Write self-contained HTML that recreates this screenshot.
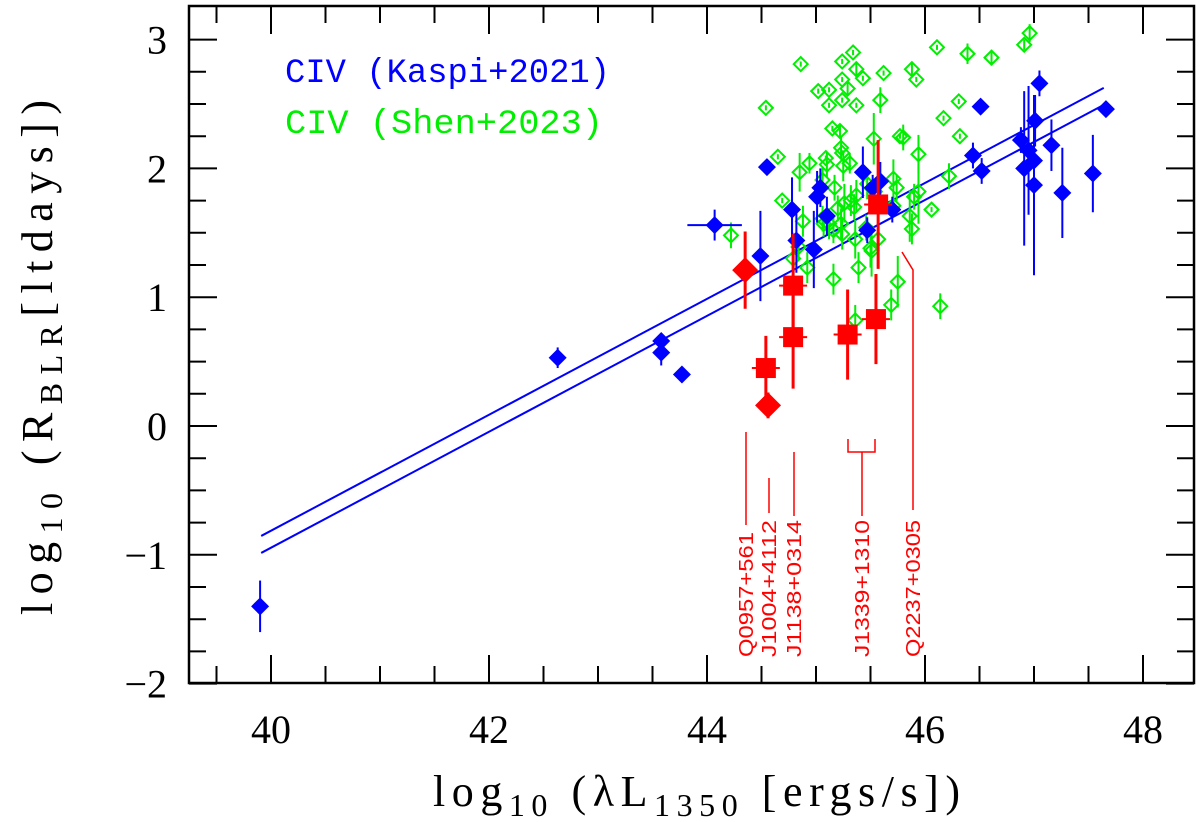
<!DOCTYPE html>
<html><head><meta charset="utf-8"><style>
html,body{margin:0;padding:0;background:#fff;}
svg{display:block;}
</style></head><body>
<svg id="chart" width="1200" height="822" viewBox="0 0 1200 822" xmlns="http://www.w3.org/2000/svg">
<rect x="0" y="0" width="1200" height="822" fill="#fff"/>
<g id="marks"></g>
<g id="axes"></g>
<text x="285" y="82" fill="#0000ff" font-family="Liberation Mono, monospace" font-size="34" textLength="325" lengthAdjust="spacingAndGlyphs">CIV (Kaspi+2021)</text>
<text x="285" y="133" fill="#00ee00" font-family="Liberation Mono, monospace" font-size="34" textLength="318" lengthAdjust="spacingAndGlyphs">CIV (Shen+2023)</text>
<text x="433" y="806" font-family="Liberation Serif, serif" font-size="44" fill="#000" textLength="527" lengthAdjust="spacing">log<tspan font-size="32" dy="10">10</tspan><tspan dy="-10">  (λL</tspan><tspan font-size="32" dy="10">1350</tspan><tspan dy="-10"> [ergs/s])</tspan></text>
<text transform="translate(52,615) rotate(-90)" font-family="Liberation Serif, serif" font-size="44" fill="#000" textLength="515" lengthAdjust="spacing">log<tspan font-size="32" dy="10">10</tspan><tspan dy="-10">  (R</tspan><tspan font-size="32" dy="10">BLR</tspan><tspan dy="-10">[ltdays])</tspan></text>
</svg>
<script>
// ----- data -----
const kaspiX = [39.9,42.63,43.58,43.58,43.77,44.07,44.49,44.55,44.78,44.82,44.98,45.01,45.04,45.1,45.43,45.47,45.52,45.59,45.7,46.44,46.51,46.52,46.88,46.91,46.95,47.0,47.01,47.0,47.05,47.16,47.26,47.54,47.66];
const kaspiY = [-1.40,0.53,0.66,0.57,0.40,1.56,1.32,2.01,1.68,1.44,1.37,1.78,1.85,1.63,1.97,1.52,1.85,1.90,1.68,2.10,2.48,1.98,2.22,2.00,2.14,2.06,2.37,1.87,2.66,2.18,1.81,1.96,2.46];
const kaspiYErr = [0.2,0.08,0.05,0.1,0.03,0.12,0.35,0.05,0.25,0.25,0.3,0.2,0.15,0.15,0.2,0.1,0.1,0.15,0.1,0.1,0.02,0.1,0.1,0.6,0.5,0.35,0.2,0.7,0.1,0.2,0.35,0.3,0.05];
const kaspiXErr = [0,0.05,0,0,0,0.25,0,0,0,0,0,0,0,0,0,0,0,0,0,0,0,0,0,0,0,0,0,0,0,0,0,0,0];

const shenX = [46.96,46.91,46.11,46.39,46.61,45.34,45.24,44.86,45.37,45.43,45.62,45.88,45.92,45.24,45.29,45.12,45.02,45.24,45.12,45.37,45.59,44.54,46.31,46.17,45.15,45.22,45.53,45.77,45.80,46.32,45.23,45.24,44.65,45.09,44.94,45.10,45.31,45.25,45.94,46.44,44.85,45.06,45.17,45.47,45.71,45.74,45.54,45.94,46.22,45.90,44.69,45.37,45.32,45.26,45.35,45.20,45.71,46.06,45.86,44.88,45.06,45.12,45.07,45.23,45.16,45.24,45.88,45.46,44.22,45.36,45.57,45.50,45.51,44.84,44.79,44.92,45.39,45.16,45.75,45.69,46.14,45.36];
const shenY = [3.05,2.96,2.94,2.89,2.86,2.90,2.83,2.81,2.77,2.70,2.74,2.77,2.69,2.69,2.62,2.61,2.60,2.53,2.49,2.49,2.53,2.47,2.52,2.39,2.31,2.29,2.23,2.25,2.24,2.25,2.16,2.12,2.09,2.08,2.04,2.03,2.04,2.02,2.11,2.10,1.97,1.91,1.85,1.88,1.92,1.85,1.82,1.82,1.94,1.78,1.75,1.79,1.75,1.73,1.70,1.69,1.71,1.68,1.63,1.59,1.61,1.57,1.57,1.57,1.52,1.49,1.53,1.54,1.48,1.45,1.45,1.38,1.36,1.39,1.30,1.23,1.23,1.14,1.12,0.94,0.93,0.82];
const shenYErr = [0.07,0.04,0.02,0.08,0.06,0.02,0.02,0.02,0.06,0.02,0.02,0.05,0.02,0.02,0.05,0.02,0.02,0.02,0.02,0.02,0.1,0.02,0.02,0.02,0.02,0.05,0.2,0.02,0.1,0.02,0.08,0.02,0.02,0.02,0.08,0.1,0.08,0.12,0.15,0.02,0.15,0.1,0.1,0.12,0.15,0.1,0.08,0.25,0.1,0.1,0.02,0.12,0.12,0.15,0.1,0.1,0.08,0.02,0.2,0.12,0.1,0.12,0.1,0.12,0.1,0.12,0.12,0.1,0.1,0.15,0.12,0.15,0.2,0.1,0.2,0.12,0.12,0.12,0.2,0.12,0.1,0.12];

const redDiamondX = [44.35,44.56];
const redDiamondY = [1.21,0.16];
const redDiamondYErr = [0.3,0.1];
const redSquareX = [44.54,44.79,44.79,45.29,45.55,45.57];
const redSquareY = [0.45,1.09,0.69,0.71,0.83,1.72];
const redSquareYErr = [0.25,0.4,0.4,0.35,0.35,0.5];

const fitX = [39.91,47.64];
const fitIntercepts = [0.987,0.855];
const fitSlope = 0.45;

const xTicksMajor = [40,42,44,46,48];
const yTicksMajor = [-2,-1,0,1,2,3];

// ----- scales -----
const L=189,R=1194,T=6,B=683;
function sx(v){return 271+(v-40)*109;}
function sy(v){return 426-v*128.8;}
const NS='http://www.w3.org/2000/svg';
const marks=document.getElementById('marks');
const axes=document.getElementById('axes');
function mk(tag,attrs,parent){const e=document.createElementNS(NS,tag);for(const k in attrs)e.setAttribute(k,attrs[k]);parent.appendChild(e);return e;}
function line(x1,y1,x2,y2,c,w,p){return mk('line',{x1:x1,y1:y1,x2:x2,y2:y2,stroke:c,'stroke-width':w},p);}

fitIntercepts.forEach((a,i)=>{
  const y1=a+fitSlope*(fitX[0]-44), y2=a+fitSlope*(fitX[1]-44);
  const l=line(sx(fitX[0]),sy(y1),sx(fitX[1]),sy(y2),'#0000ff',2,marks);
  
  
});

shenX.forEach((x,i)=>{
  const g=mk('g',{},marks);
  
  
  const cx=sx(x),cy=sy(shenY[i]),e=shenYErr[i]*128.8,h=7;
  line(cx,cy-e,cx,cy+e,'#00ee00',2,g);
  mk('polygon',{points:`${cx},${cy-h} ${cx+h},${cy} ${cx},${cy+h} ${cx-h},${cy}`,fill:'none',stroke:'#00ee00','stroke-width':2},g);
});

kaspiX.forEach((x,i)=>{
  const g=mk('g',{},marks);
  
  
  const cx=sx(x),cy=sy(kaspiY[i]),e=kaspiYErr[i]*128.8,ex=kaspiXErr[i]*109,h=9;
  line(cx,cy-e,cx,cy+e,'#0000ff',2,g);
  if(ex>0) line(cx-ex,cy,cx+ex,cy,'#0000ff',2,g);
  mk('polygon',{points:`${cx},${cy-h} ${cx+h},${cy} ${cx},${cy+h} ${cx-h},${cy}`,fill:'#0000ff'},g);
});

redDiamondX.forEach((x,i)=>{
  const g=mk('g',{},marks);
  
  
  const cx=sx(x),cy=sy(redDiamondY[i]),e=redDiamondYErr[i]*128.8,h=13;
  line(cx,cy-e,cx,cy+e,'#ff0000',3,g);
  mk('polygon',{points:`${cx},${cy-h} ${cx+h},${cy} ${cx},${cy+h} ${cx-h},${cy}`,fill:'#ff0000'},g);
});
redSquareX.forEach((x,i)=>{
  const g=mk('g',{},marks);
  
  
  const cx=sx(x),cy=sy(redSquareY[i]),e=redSquareYErr[i]*128.8,h=10;
  line(cx,cy-e,cx,cy+e,'#ff0000',3,g);
  line(cx-14,cy,cx+14,cy,'#ff0000',2,g);
  mk('rect',{x:cx-h,y:cy-h,width:2*h,height:2*h,fill:'#ff0000'},g);
});

const annNames = ['Q0957+561','J1004+4112','J1138+0314','J1339+1310','Q2237+0305'];
const annX = [746,769,794,862,913];
const ann=mk('g',{stroke:'#ff0000','stroke-width':1.5,fill:'none'},marks);


line(746,432,746,525,'#ff0000',1.5,ann);
line(769,478,769,513,'#ff0000',1.5,ann);
line(794,452,794,516,'#ff0000',1.5,ann);
mk('polyline',{points:'848,439 848,452 875,452 875,439'},ann);
line(862,452,862,516,'#ff0000',1.5,ann);
mk('polyline',{points:'902,252 913,270 913,510'},ann);
annNames.forEach((n,i)=>{
  const t=mk('text',{transform:`translate(${annX[i]+7},657) rotate(-90)`,fill:'#ff0000','font-family':'Liberation Sans, sans-serif','font-size':20,textLength:n.length>9?137:125,lengthAdjust:'spacingAndGlyphs'},marks);
  t.textContent=n;
  
  
});

const fr=mk('rect',{x:L,y:T,width:R-L,height:B-T,fill:'none',stroke:'#000','stroke-width':2.5},axes);


for(let v=39.5;v<=48.3;v+=0.5){
  const major=Math.abs(v/2-Math.round(v/2))<1e-6;
  const len=major?28:17,x=sx(v);
  line(x,B,x,B-len,'#000',2,axes);
  line(x,T,x,T+len,'#000',2,axes);
}
for(let v=-2;v<=3.2;v+=0.25){
  const major=Math.abs(v-Math.round(v))<1e-6;
  const len=major?28:17,y=sy(v);
  line(L,y,L+len,y,'#000',2,axes);
  line(R,y,R-len,y,'#000',2,axes);
}
xTicksMajor.forEach(v=>{
  const t=mk('text',{x:sx(v),y:B+60,'text-anchor':'middle','font-family':'Liberation Serif, serif','font-size':40,fill:'#000'},axes);
  t.textContent=v;
  
  
});
yTicksMajor.forEach(v=>{
  const t=mk('text',{x:167,y:sy(v)+14,'text-anchor':'end','font-family':'Liberation Serif, serif','font-size':40,fill:'#000'},axes);
  t.textContent=v<0?'\u2212'+(-v):v;
  
  
});
</script>
</body></html>
